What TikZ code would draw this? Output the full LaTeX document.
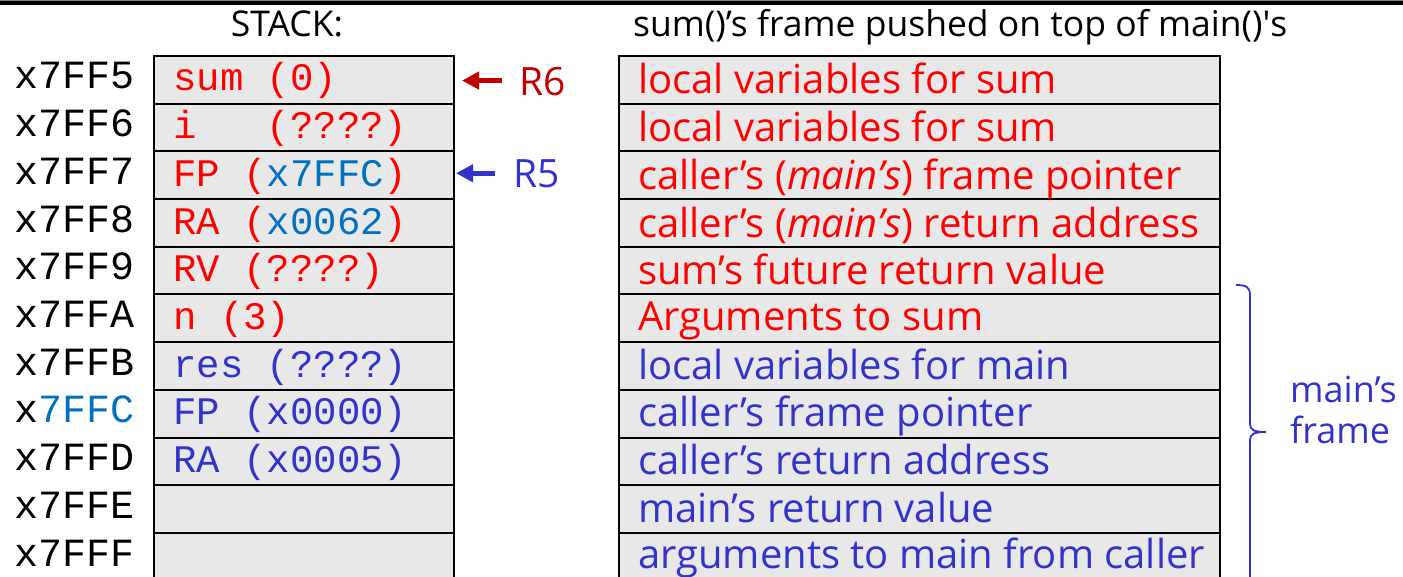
\documentclass[tikz,border=0pt]{standalone}
\usepackage{fontspec}
\setmainfont{Open Sans}
\setmonofont{Liberation Mono}
\usetikzlibrary{arrows.meta}
\definecolor{sumred}{HTML}{FF0000}
\definecolor{ptrred}{HTML}{C00000}
\definecolor{mainblue}{HTML}{3333CC}
\definecolor{addrblue}{HTML}{0070C0}
\definecolor{cellgray}{HTML}{E8E8E8}
\definecolor{rulegray}{HTML}{808080}

\begin{document}
\begin{tikzpicture}[x=1pt,y=-1pt,
  cell/.style={draw=black, line width=2pt, fill=cellgray, minimum height=47.7pt,
    inner sep=0pt, anchor=north west},
  stackcell/.style={cell, minimum width=300pt},
  framecell/.style={cell, minimum width=601pt},
  mono/.style={anchor=base west, inner sep=0pt, font=\ttfamily\fontsize{39}{39}\selectfont},
  addr/.style={mono, font=\ttfamily\fontsize{40}{40}\selectfont},
  desc/.style={anchor=base west, inner sep=0pt, font=\fontsize{40}{40}\selectfont},
  heading/.style={inner sep=0pt, font=\fontsize{35.5}{35.5}\selectfont},
  ptr/.style={line width=5pt, -{Triangle[length=17pt,width=17pt]}},
]
\useasboundingbox (0,0) rectangle (1403,577);

% rule across the top
\fill[rulegray] (0,0) rectangle (1403,0.8);
\fill[black] (0,0.8) rectangle (1403,5.5);

% headings
\node[heading, anchor=base] (stacktitle) at (287,37) {STACK:};
\node[heading, anchor=base west] (frametitle) at (633,37)
  {sum()’s frame pushed on top of main()\textquotesingle s};

% memory cells and frame description cells
\foreach \i in {0,...,10} {
  \node[stackcell] (s\i) at (153,{55+47.7*\i}) {};
  \node[framecell] (f\i) at (618,{55+47.7*\i}) {};
}

% addresses
\foreach \a [count=\i from 0] in {x7FF5,x7FF6,x7FF7,x7FF8,x7FF9,x7FFA,x7FFB,
    x\textcolor{addrblue}{7FFC},x7FFD,x7FFE,x7FFF} {
  \node[addr] (a\i) at (14,{55+47.7*\i+34}) {\a};
}

% stack contents
\node[mono, text=sumred]   (v0) at (173,{55+36})        {sum (0)};
\node[mono, text=sumred]   (v1) at (173,{55+47.7+36})   {i~~~(????)};
\node[mono, text=sumred]   (v2) at (173,{55+47.7*2+36}) {FP (\textcolor{addrblue}{x7FFC})};
\node[mono, text=sumred]   (v3) at (173,{55+47.7*3+36}) {RA (\textcolor{addrblue}{x0062})};
\node[mono, text=sumred]   (v4) at (173,{55+47.7*4+36}) {RV (????)};
\node[mono, text=sumred]   (v5) at (173,{55+47.7*5+36}) {n (3)};
\node[mono, text=mainblue] (v6) at (173,{55+47.7*6+36}) {res (????)};
\node[mono, text=mainblue] (v7) at (173,{55+47.7*7+36}) {FP (x0000)};
\node[mono, text=mainblue] (v8) at (173,{55+47.7*8+36}) {RA (x0005)};

% frame descriptions
\node[desc, text=sumred]   (d0)  at (638,{55+39})         {local variables for sum};
\node[desc, text=sumred]   (d1)  at (638,{55+47.7+39})    {local variables for sum};
\node[desc, text=sumred]   (d2)  at (638,{55+47.7*2+39})  {caller’s (\textit{main’s}) frame pointer};
\node[desc, text=sumred]   (d3)  at (638,{55+47.7*3+39})  {caller’s (\textit{main’s}) return address};
\node[desc, text=sumred]   (d4)  at (638,{55+47.7*4+39})  {sum’s future return value};
\node[desc, text=sumred]   (d5)  at (638,{55+47.7*5+37})  {Arguments to sum};
\node[desc, text=mainblue] (d6)  at (638,{55+47.7*6+38})  {local variables for main};
\node[desc, text=mainblue] (d7)  at (638,{55+47.7*7+38})  {caller’s frame pointer};
\node[desc, text=mainblue] (d8)  at (638,{55+47.7*8+38})  {caller’s return address};
\node[desc, text=mainblue] (d9)  at (638,{55+47.7*9+38})  {main’s return value};
\node[desc, text=mainblue] (d10) at (638,{55+47.7*10+36}) {arguments to main from caller};

% register pointers
\node[desc, text=ptrred,   font=\fontsize{39}{39}\selectfont] (r6) at (519,96)  {R6};
\node[desc, text=mainblue, font=\fontsize{39}{39}\selectfont] (r5) at (513,188) {R5};
\coordinate (r6tail) at ([xshift=-17pt,yshift=1.5pt]r6.west);
\coordinate (r5tail) at ([xshift=-18pt,yshift=1pt]r5.west);
\coordinate (r6tip) at (s0.east |- r6tail);
\coordinate (r5tip) at (s2.east |- r5tail);
\draw[ptr, ptrred]   (r6tail) -- ([xshift=7pt]r6tip);
\draw[ptr, mainblue] (r5tail) -- ([xshift=1pt]r5tip);

% brace grouping main's frame
\draw[mainblue, line width=1.8pt]
  (1236,285) .. controls (1246,285) and (1250,287) .. (1250,295)
  -- (1250,424) .. controls (1250,430) and (1254,432) .. (1266,432)
  .. controls (1254,432) and (1250,434) .. (1250,440)
  -- (1250,585) .. controls (1250,592) and (1246,594) .. (1236,594);
\node[desc, text=mainblue, font=\fontsize{36}{36}\selectfont] (mf1) at (1290,402) {main’s};
\node[desc, text=mainblue, font=\fontsize{36}{36}\selectfont] (mf2) at (1290,443) {frame};
\end{tikzpicture}
\end{document}
